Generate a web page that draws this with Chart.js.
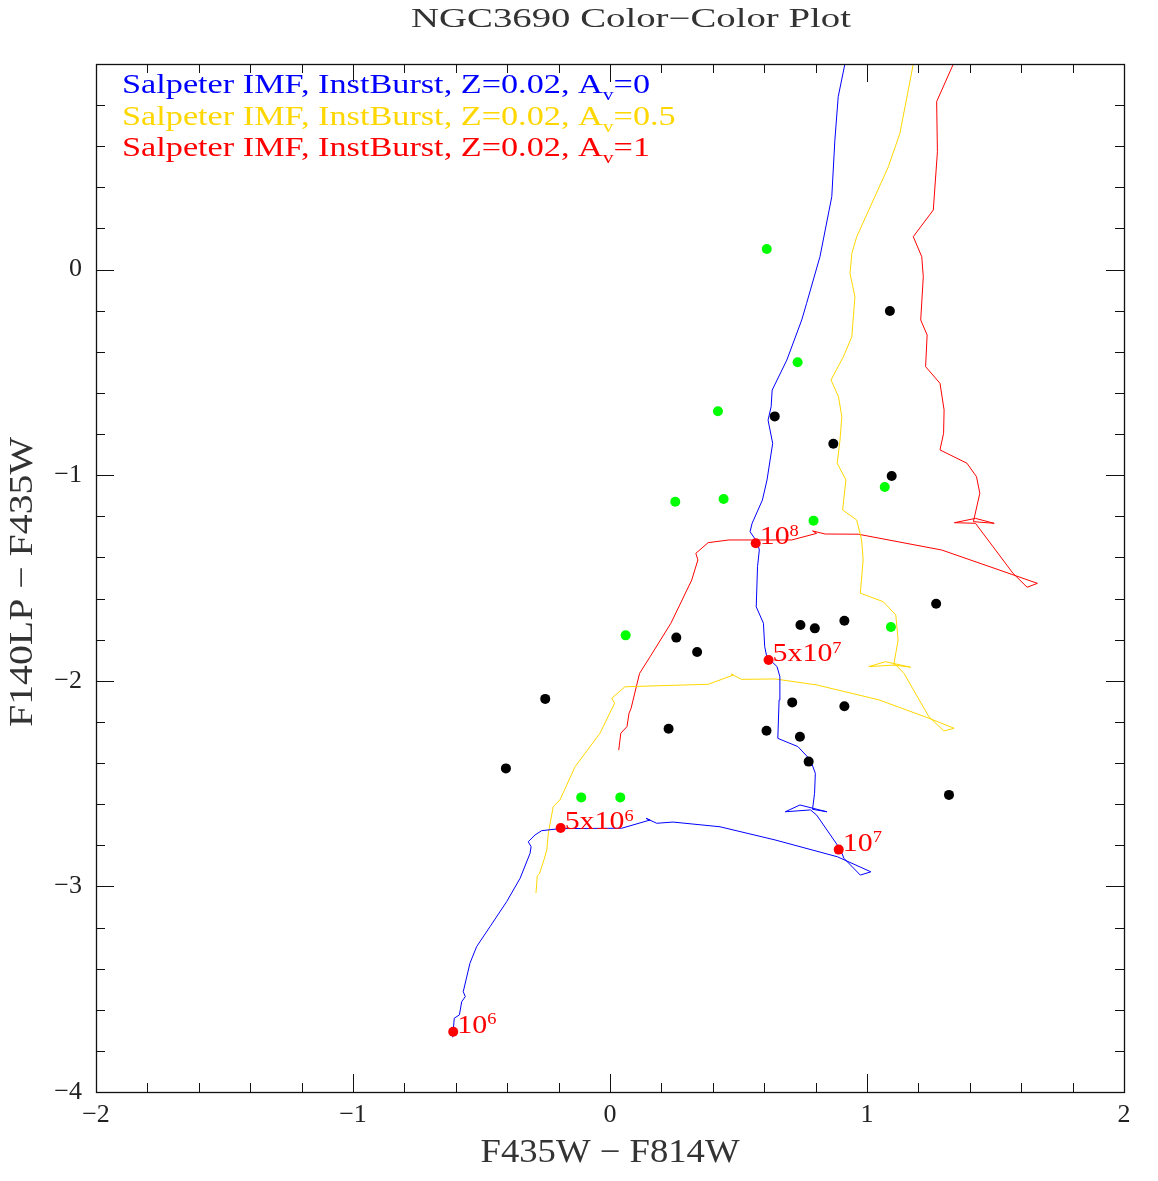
<!DOCTYPE html>
<html>
<head>
<meta charset="utf-8">
<title>NGC3690 Color-Color Plot</title>
<script src="https://cdn.jsdelivr.net/npm/chart.js@4.4.1/dist/chart.umd.min.js"></script>
<style>
  html, body { margin: 0; padding: 0; background: #fff; }
  #wrap { width: 1158px; height: 1181px; }
</style>
</head>
<body>
<div id="wrap"><canvas id="ccPlot" width="1158" height="1181"></canvas></div>
<script>
"use strict";

// Starburst tracks: x = F435W - F814W, y = F140LP - F435W
var trackAv0X = [-0.612, -0.606, -0.586, -0.577, -0.563, -0.571, -0.545, -0.519, -0.467, -0.402, -0.350, -0.311, -0.307, -0.318, -0.292, -0.266, -0.195, 0.046, 0.156, 0.140, 0.182, 0.245, 0.428, 0.642, 0.885, 1.015, 0.974, 0.910, 0.897, 0.804, 0.780, 0.682, 0.739, 0.844, 0.788, 0.796, 0.799, 0.780, 0.731, 0.653, 0.658, 0.661, 0.650, 0.610, 0.602, 0.597, 0.569, 0.574, 0.581, 0.574, 0.545, 0.553, 0.593, 0.611, 0.633, 0.615, 0.627, 0.631, 0.688, 0.746, 0.765, 0.817, 0.863, 0.875, 0.888, 0.914];
var trackAv0Y = [-3.734, -3.641, -3.625, -3.561, -3.536, -3.512, -3.374, -3.293, -3.196, -3.074, -2.961, -2.839, -2.807, -2.783, -2.750, -2.729, -2.719, -2.717, -2.677, -2.669, -2.693, -2.687, -2.710, -2.774, -2.856, -2.929, -2.945, -2.863, -2.821, -2.653, -2.628, -2.637, -2.604, -2.637, -2.625, -2.547, -2.450, -2.385, -2.320, -2.280, -2.093, -1.980, -1.931, -1.883, -1.834, -1.720, -1.640, -1.445, -1.364, -1.328, -1.275, -1.234, -1.121, -1.023, -0.845, -0.732, -0.667, -0.586, -0.440, -0.245, -0.164, 0.063, 0.355, 0.630, 0.841, 1.000];

var trackAv05X = [-0.288, -0.283, -0.275, -0.257, -0.246, -0.240, -0.221, -0.195, -0.136, -0.039, 0.018, 0.007, 0.058, 0.382, 0.480, 0.471, 0.512, 0.642, 0.804, 1.047, 1.241, 1.339, 1.299, 1.241, 1.144, 1.112, 1.007, 1.072, 1.170, 1.104, 1.121, 1.112, 1.063, 0.974, 0.985, 0.979, 0.960, 0.905, 0.918, 0.884, 0.895, 0.902, 0.889, 0.860, 0.908, 0.941, 0.953, 0.934, 0.941, 0.960, 1.083, 1.128, 1.148, 1.180];
var trackAv05Y = [-3.032, -2.949, -2.940, -2.871, -2.823, -2.742, -2.612, -2.580, -2.418, -2.255, -2.109, -2.085, -2.029, -2.017, -1.972, -1.967, -1.993, -1.991, -2.020, -2.093, -2.182, -2.231, -2.244, -2.175, -1.964, -1.923, -1.931, -1.907, -1.934, -1.923, -1.802, -1.680, -1.615, -1.574, -1.412, -1.315, -1.218, -1.169, -1.023, -0.942, -0.829, -0.715, -0.618, -0.537, -0.424, -0.326, -0.132, -0.018, 0.079, 0.160, 0.500, 0.663, 0.792, 1.000];

var trackAv1X = [0.034, 0.042, 0.066, 0.074, 0.082, 0.115, 0.156, 0.237, 0.318, 0.342, 0.334, 0.382, 0.463, 0.707, 0.804, 0.788, 0.837, 0.966, 1.291, 1.533, 1.663, 1.623, 1.568, 1.422, 1.340, 1.422, 1.495, 1.414, 1.439, 1.426, 1.389, 1.284, 1.298, 1.300, 1.284, 1.228, 1.234, 1.209, 1.219, 1.213, 1.180, 1.258, 1.274, 1.271, 1.336];
var trackAv1Y = [-2.337, -2.255, -2.223, -2.158, -2.134, -1.964, -1.883, -1.720, -1.510, -1.412, -1.380, -1.328, -1.315, -1.315, -1.283, -1.271, -1.286, -1.287, -1.364, -1.469, -1.526, -1.545, -1.477, -1.234, -1.231, -1.210, -1.234, -1.226, -1.088, -1.007, -0.942, -0.877, -0.796, -0.683, -0.553, -0.472, -0.318, -0.245, -0.035, 0.063, 0.160, 0.290, 0.573, 0.817, 1.000];

// observed clusters
var blackX = [1.089, 0.641, 0.869, 1.096, 1.269, 0.741, 0.797, 0.912, 0.258, 0.339, -0.252, 0.709, 0.912, 0.228, 0.609, 0.739, 0.773, -0.405, 1.319];
var blackY = [-0.201, -0.714, -0.847, -1.004, -1.625, -1.729, -1.745, -1.708, -1.790, -1.860, -2.088, -2.105, -2.124, -2.233, -2.243, -2.272, -2.393, -2.426, -2.555];
var greenX = [0.610, 0.730, 0.420, 0.254, 0.442, 0.792, 1.069, 0.061, 1.093, -0.112, 0.040];
var greenY = [0.100, -0.451, -0.689, -1.129, -1.116, -1.221, -1.057, -1.779, -1.738, -2.567, -2.567];

// age marks on the Av=0 track
var ageX = [-0.610, -0.192, 0.890, 0.617, 0.567];
var ageY = [-3.707, -2.716, -2.821, -1.899, -1.331];
var ageMant = ["10", "5x10", "10", "5x10", "10"];
var ageExp = ["6", "6", "7", "7", "8"];

var legendTexts = ["Salpeter IMF, InstBurst, Z=0.02, A", "Salpeter IMF, InstBurst, Z=0.02, A", "Salpeter IMF, InstBurst, Z=0.02, A"];
var legendAv = ["0", "0.5", "1"];

var xTicks = [-2, -1, 0, 1, 2];
var yTicks = [-4, -3, -2, -1, 0];

var BLUE = "#0000ff", YELLOW = "#ffd700", RED = "#ff0000";
var FONT = "Liberation Serif";

function toPoints(xs, ys) {
  var out = [];
  for (var i = 0; i < xs.length; i++) {
    out.push({x: xs[i], y: ys[i]});
  }
  return out;
}

function fmtTick(v) {
  if (v === 1 && this.axis === "y") return "";
  return v < 0 ? "\u2212" + Math.abs(v) : String(v);
}

function partFont(size, kind) {
  return (kind ? Math.round(size * 0.62) : size) + "px \"" + FONT + "\"";
}

// draws a run of [text, kind] parts, kind = "sub" / "sup" / undefined
function drawRich(ctx, parts, x, y, size, color, stretch, width, align) {
  var natural = 0;
  parts.forEach(function(p) {
    ctx.font = partFont(size, p[1]);
    natural += ctx.measureText(p[0]).width;
  });
  var sx = width ? width / natural : stretch;
  var left = align === "center" ? x - natural * sx / 2 : x;
  ctx.save();
  ctx.translate(left, y);
  ctx.scale(sx, 1);
  ctx.fillStyle = color;
  ctx.textAlign = "left";
  ctx.textBaseline = "alphabetic";
  var cx = 0;
  parts.forEach(function(p) {
    ctx.font = partFont(size, p[1]);
    var dy = p[1] === "sub" ? size * 0.27 : (p[1] === "sup" ? -size * 0.32 : 0);
    ctx.fillText(p[0], cx, dy);
    cx += ctx.measureText(p[0]).width;
  });
  ctx.restore();
}

var framePlugin = {
  id: "frameAndText",
  afterDatasetsDraw: function(chart) {
    var ctx = chart.ctx;
    var a = chart.chartArea;
    var xs = chart.scales.x, ys = chart.scales.y;
    ctx.save();
    ctx.strokeStyle = "#111";
    ctx.lineWidth = 1;
    var i, v, p, len;
    // minor/major ticks, inward on all four sides
    for (i = -10; i <= 10; i++) {
      v = i * 0.2;
      p = Math.round(xs.getPixelForValue(v)) + 0.5;
      len = (i % 5 === 0) ? 18 : 9;
      ctx.beginPath();
      ctx.moveTo(p, a.bottom); ctx.lineTo(p, a.bottom - len);
      ctx.moveTo(p, a.top); ctx.lineTo(p, a.top + len);
      ctx.stroke();
    }
    for (i = -20; i <= 5; i++) {
      v = i * 0.2;
      p = Math.round(ys.getPixelForValue(v)) + 0.5;
      len = (i % 5 === 0) ? 18 : 9;
      ctx.beginPath();
      ctx.moveTo(a.left, p); ctx.lineTo(a.left + len, p);
      ctx.moveTo(a.right, p); ctx.lineTo(a.right - len, p);
      ctx.stroke();
    }
    ctx.lineWidth = 1.3;
    ctx.strokeRect(Math.round(a.left) + 0.5, Math.round(a.top) + 0.5, Math.round(a.right - a.left), Math.round(a.bottom - a.top));
    ctx.restore();

    // age labels
    for (i = 0; i < ageX.length; i++) {
      var px = xs.getPixelForValue(ageX[i]);
      var py = ys.getPixelForValue(ageY[i]);
      drawRich(ctx, [[ageMant[i]], [ageExp[i], "sup"]], px + 4, py + 1, 26, RED, 1.15);
    }

    // legend
    var colors = [BLUE, YELLOW, RED];
    var legendStretch = null;
    for (i = 0; i < legendTexts.length; i++) {
      var parts = [[legendTexts[i]], ["v", "sub"], ["=" + legendAv[i]]];
      if (legendStretch === null) {
        var nat = 0;
        parts.forEach(function(q) { ctx.font = partFont(27, q[1]); nat += ctx.measureText(q[0]).width; });
        legendStretch = 528 / nat;
      }
      drawRich(ctx, parts, 122, 93 + i * 31.5, 27, colors[i], legendStretch);
    }

    // titles
    drawRich(ctx, [["NGC3690 Color\u2212Color Plot"]], 631, 27, 27, "#333", 1, 440, "center");
    drawRich(ctx, [["F435W \u2212 F814W"]], (a.left + a.right) / 2, 1162, 33, "#333", 1, 259, "center");
    ctx.save();
    ctx.translate(32, 582);
    ctx.rotate(-Math.PI / 2);
    drawRich(ctx, [["F140LP \u2212 F435W"]], 0, 0, 33, "#333", 1, 290, "center");
    ctx.restore();
  }
};

var tickFont = {family: FONT, size: 26};

var chart = new Chart(document.getElementById("ccPlot"), {
  type: "scatter",
  data: {
    datasets: [
      {label: "ages", data: toPoints(ageX, ageY), pointRadius: 5, pointBackgroundColor: RED, pointBorderWidth: 0, showLine: false},
      {label: "black", data: toPoints(blackX, blackY), pointRadius: 5, pointBackgroundColor: "#000", pointBorderWidth: 0, showLine: false},
      {label: "green", data: toPoints(greenX, greenY), pointRadius: 5, pointBackgroundColor: "#00ff00", pointBorderWidth: 0, showLine: false},
      {label: "Av=0", data: toPoints(trackAv0X, trackAv0Y), showLine: true, borderColor: BLUE, borderWidth: 1, pointRadius: 0, tension: 0},
      {label: "Av=0.5", data: toPoints(trackAv05X, trackAv05Y), showLine: true, borderColor: YELLOW, borderWidth: 1, pointRadius: 0, tension: 0},
      {label: "Av=1", data: toPoints(trackAv1X, trackAv1Y), showLine: true, borderColor: RED, borderWidth: 1, pointRadius: 0, tension: 0}
    ]
  },
  options: {
    responsive: false,
    animation: false,
    events: [],
    layout: {padding: {top: 64, right: 34, left: 0, bottom: 0}},
    plugins: {legend: {display: false}, tooltip: {enabled: false}, title: {display: false}},
    scales: {
      x: {
        type: "linear", min: -2, max: 2,
        border: {display: false},
        grid: {display: false, drawTicks: false},
        afterBuildTicks: function(s) { s.ticks = xTicks.map(function(v) { return {value: v}; }); },
        ticks: {padding: 8, color: "#222", font: tickFont, maxRotation: 0, autoSkip: false, callback: fmtTick},
        afterFit: function(s) { s.height = 89; }
      },
      y: {
        type: "linear", min: -4, max: 1,
        border: {display: false},
        grid: {display: false, drawTicks: false},
        afterBuildTicks: function(s) { s.ticks = yTicks.map(function(v) { return {value: v}; }); },
        ticks: {padding: 14, color: "#222", font: tickFont, autoSkip: false, callback: fmtTick},
        afterFit: function(s) { s.width = 96; }
      }
    }
  },
  plugins: [framePlugin]
});
</script>
</body>
</html>
